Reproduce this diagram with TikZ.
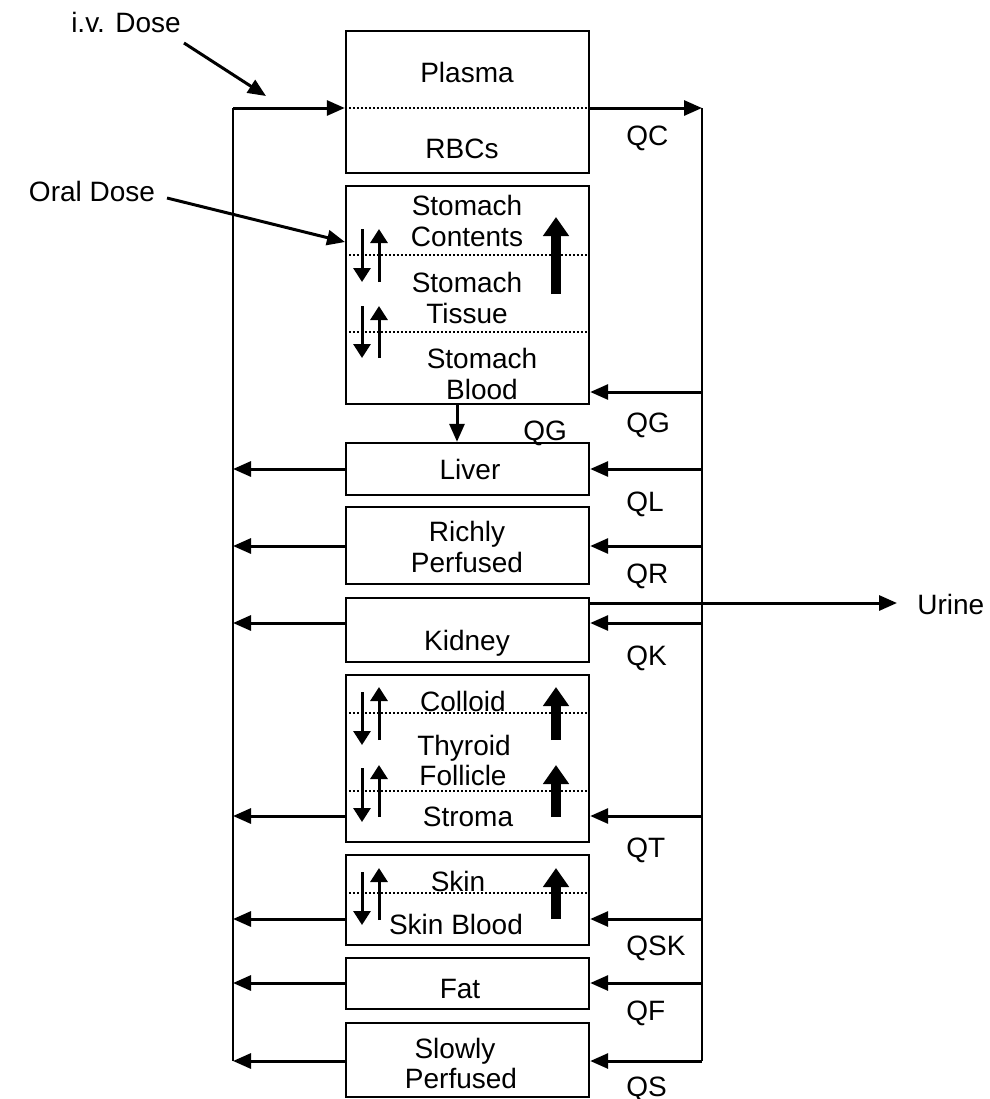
\documentclass[tikz,border=0pt]{standalone}
\usepackage{fontspec}
\setmainfont{Liberation Sans}
\usetikzlibrary{arrows.meta,fit}
\begin{document}
\begin{tikzpicture}[x=0.5pt,y=-0.5pt,
  box/.style={draw, line width=1.2pt, inner sep=0pt},
  lbl/.style={inner sep=0pt, anchor=base, font=\fontsize{14}{15.5}\selectfont},
  qlbl/.style={lbl, anchor=base west},
  bus/.style={line width=1.2pt},
  conn/.style={line width=1.5pt, -{Triangle[length=9pt,width=7.5pt]}},
  sep/.style={line width=1.3pt, dash pattern=on 1.1pt off 0.9pt},
  smallarr/.style={line width=1.5pt, -{Triangle[length=7pt,width=8.5pt]}},
  bigarr/.style={line width=5pt, -{Triangle[length=9.5pt,width=12.5pt]}},
]
\useasboundingbox (0,0) rectangle (990,1099);

% compartments
\node[box, fit={(346,31)(589,173)}] (plasma) {};
\node[box, fit={(346,186)(589,404)}] (stomach) {};
\node[box, fit={(346,443)(589,495)}] (liver) {};
\node[box, fit={(346,507)(589,584)}] (richly) {};
\node[box, fit={(346,598)(589,662)}] (kidney) {};
\node[box, fit={(346,675)(589,842)}] (thyroid) {};
\node[box, fit={(346,855)(589,945)}] (skin) {};
\node[box, fit={(346,958)(589,1009)}] (fat) {};
\node[box, fit={(346,1023)(589,1097)}] (slowly) {};

% texts in compartments
\node[lbl] (tPlasma) at (467,82) {Plasma};
\node[lbl] (tRBC) at (462,158) {RBCs};
\node[lbl] (tSC1) at (467,215) {Stomach};
\node[lbl] (tSC2) at (467,246) {Contents};
\node[lbl] (tST1) at (467,292) {Stomach};
\node[lbl] (tST2) at (467,323) {Tissue};
\node[lbl] (tSB1) at (482,368) {Stomach};
\node[lbl] (tSB2) at (482,399) {Blood};
\node[lbl] (tLiver) at (470,479) {Liver};
\node[lbl] (tRP1) at (467,541) {Richly};
\node[lbl] (tRP2) at (467,572) {Perfused};
\node[lbl] (tKid) at (467,650) {Kidney};
\node[lbl] (tCol) at (463,711) {Colloid};
\node[lbl] (tTF1) at (464,755) {Thyroid};
\node[lbl] (tTF2) at (463,785) {Follicle};
\node[lbl] (tStr) at (468,826) {Stroma};
\node[lbl] (tSkin) at (458,891) {Skin};
\node[lbl] (tSkB) at (456,934) {Skin Blood};
\node[lbl] (tFat) at (460,998) {Fat};
\node[lbl] (tSP1) at (455,1058) {Slowly};
\node[lbl] (tSP2) at (461,1088) {Perfused};

% flow labels
\node[qlbl] (qc) at (626,145) {QC};
\node[qlbl] (qg) at (626,432) {QG};
\node[qlbl] (qg2) at (523,440) {QG};
\node[qlbl] (ql) at (626,511) {QL};
\node[qlbl] (qr) at (626,583) {QR};
\node[qlbl] (qk) at (626,665) {QK};
\node[qlbl] (qt) at (626,857) {QT};
\node[qlbl] (qsk) at (626,955) {QSK};
\node[qlbl] (qf) at (626,1020) {QF};
\node[qlbl] (qs) at (626,1096) {QS};

% doses and urine
\node[lbl] (iv) at (126,32) {i.v. Dose};
\node[lbl] (oral) at (92,201) {Oral Dose};
\node[lbl, anchor=base west] (urine) at (917,614) {Urine};

% buses
\coordinate (Ltop) at (233,108);
\coordinate (Lbot) at (233,1061);
\coordinate (Rtop) at (702,108);
\coordinate (Rbot) at (702,1061);
\draw[bus] (Ltop) -- (Lbot);
\draw[bus] (Rtop) -- (Rbot);

% plasma
\draw[conn] (Ltop) -- (plasma.west |- Ltop);
\draw[sep] (plasma.west |- Ltop) -- (plasma.east |- Ltop);
\draw[conn] (plasma.east |- Ltop) -- (Rtop);

% organ connectors
\foreach \n/\y in {liver/469, richly/546, kidney/623, thyroid/816, skin/919, fat/983, slowly/1061} {
  \coordinate (r\n) at (702,\y);
  \coordinate (l\n) at (233,\y);
  \draw[conn] (r\n) -- (\n.east |- r\n);
  \draw[conn] (\n.west |- l\n) -- (l\n);
}
\coordinate (rstomach) at (702,392);
\draw[conn] (rstomach) -- (stomach.east |- rstomach);
\coordinate (sl) at (457,0);
\draw[conn] (sl |- stomach.south) -- (sl |- liver.north);

% urine
\coordinate (ku) at (0,603);
\draw[conn, shorten >=10pt] (kidney.east |- ku) -- (urine.west |- ku);

% doses
\coordinate (ivstart) at (184,43);
\coordinate (ivtip) at (266,96);
\draw[conn] (ivstart) -- (ivtip);
\coordinate (oralstart) at (167,198);
\coordinate (oraltip) at (345,242);
\draw[conn] (oralstart) -- (oraltip);

% separators
\foreach \n/\y in {stomach/255, stomach/332, thyroid/713, thyroid/791, skin/893} {
  \coordinate (s) at (0,\y);
  \draw[sep] (\n.west |- s) -- (\n.east |- s);
}

% exchange arrows
\foreach \a/\b in {229/282, 306/358, 692/745, 768/822, 872/925} {
  \draw[smallarr] (362,\a) -- (362,\b);
}
\foreach \a/\b in {282/229, 358/306, 740/687, 817/765, 920/868} {
  \draw[smallarr] (379,\a) -- (379,\b);
}
\foreach \a/\b in {294/217, 740/687, 817/765, 919/868} {
  \draw[bigarr] (556,\a) -- (556,\b);
}
\end{tikzpicture}
\end{document}
